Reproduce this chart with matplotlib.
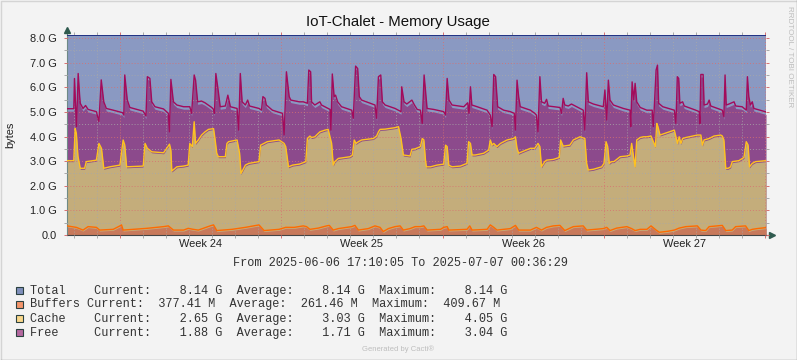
import numpy as np
import matplotlib
matplotlib.use('Agg')
import matplotlib.pyplot as plt
import matplotlib.dates as mdates
import matplotlib.transforms as mtransforms
from matplotlib.patches import Rectangle
from matplotlib.lines import Line2D

title = 'IoT-Chalet - Memory Usage'
start = np.datetime64('2025-06-06T17:10:05')
end = np.datetime64('2025-07-07T00:36:29')
day0 = np.datetime64('2025-06-07T00:00:00')

total_gb = 8.14

# stacked tops (GB), time in days after 2025-06-07 00:00
free_points = [
    (-0.285, 5.13), (0.01, 5.13), (0.04, 6.36), (0.09, 5.20), (0.13, 4.40), (0.20, 6.56), (0.26, 5.70),
    (0.29, 5.35), (0.41, 5.14), (0.52, 5.26), (0.63, 5.10), (0.99, 5.01), (1.10, 4.60), (1.20, 6.30),
    (1.31, 5.41), (1.42, 5.14), (1.72, 5.07), (2.12, 4.97), (2.18, 4.87), (2.22, 6.50), (2.33, 5.48),
    (2.44, 5.18), (3.02, 5.03), (3.14, 4.83), (3.20, 6.43), (3.31, 6.36), (3.39, 5.41), (3.53, 5.21),
    (3.90, 5.12), (4.11, 4.94), (4.16, 4.19), (4.22, 6.32), (4.33, 5.41), (4.48, 5.28), (4.77, 5.21),
    (5.04, 5.21), (5.12, 4.94), (5.23, 6.50), (5.29, 6.29), (5.38, 5.41), (5.55, 5.44), (5.70, 5.37),
    (5.99, 5.18), (6.07, 5.10), (6.11, 4.94), (6.17, 6.56), (6.26, 5.95), (6.36, 5.21), (6.58, 5.24),
    (6.69, 5.68), (6.80, 5.21), (7.09, 5.14), (7.16, 4.26), (7.23, 6.56), (7.31, 5.41), (7.45, 5.28),
    (7.55, 5.48), (7.63, 5.24), (8.04, 5.14), (8.15, 5.07), (8.21, 5.62), (8.30, 5.55), (8.36, 5.28),
    (8.62, 5.07), (9.06, 4.94), (9.13, 4.06), (9.23, 6.63), (9.35, 5.62), (9.42, 5.48), (9.79, 5.41),
    (9.96, 5.41), (10.14, 5.35), (10.20, 6.70), (10.28, 6.63), (10.32, 5.41), (10.46, 5.28), (10.68, 5.41),
    (10.75, 5.28), (11.12, 5.10), (11.16, 4.26), (11.22, 6.54), (11.30, 5.62), (11.36, 5.68), (11.45, 5.41),
    (11.62, 5.21), (12.06, 5.07), (12.13, 4.74), (12.23, 6.86), (12.32, 6.76), (12.39, 5.62), (12.49, 5.48),
    (13.07, 5.28), (13.14, 4.74), (13.22, 6.43), (13.32, 6.50), (13.39, 5.41), (13.51, 5.28), (13.94, 5.14),
    (14.20, 5.01), (14.23, 6.02), (14.33, 5.41), (14.45, 5.32), (14.67, 5.48), (14.78, 5.28),
    (14.90, 5.10), (15.04, 5.07), (15.12, 4.53), (15.20, 6.50), (15.27, 5.75), (15.33, 5.14), (15.62, 5.10),
    (16.05, 5.01), (16.13, 4.87), (16.20, 6.36), (16.28, 5.48), (16.41, 5.28), (16.92, 5.21), (17.09, 5.37),
    (17.15, 4.94), (17.21, 6.02), (17.27, 5.28), (17.50, 5.21), (17.93, 5.07), (18.07, 4.87), (18.15, 4.40),
    (18.22, 6.52), (18.30, 6.43), (18.39, 5.21), (18.65, 5.07), (18.94, 5.01), (19.11, 4.94), (19.16, 4.26),
    (19.23, 6.29), (19.30, 5.62), (19.37, 5.21), (19.59, 5.14), (19.81, 5.07),
    (20.00, 4.94), (20.07, 4.87), (20.14, 4.19), (20.22, 6.43), (20.29, 5.41), (20.43, 5.35), (20.51, 5.51),
    (20.58, 5.24), (21.09, 5.18), (21.16, 4.94), (21.23, 5.55), (21.30, 5.28), (21.45, 5.24), (21.59, 5.32),
    (22.10, 5.07), (22.17, 4.26), (22.25, 6.59), (22.32, 5.41), (22.54, 5.32), (22.97, 5.21), (23.04, 5.89),
    (23.12, 4.67), (23.19, 6.29), (23.26, 5.48), (23.41, 5.28), (23.84, 5.14), (24.13, 5.07), (24.16, 4.40),
    (24.22, 6.22), (24.29, 5.48), (24.35, 6.16), (24.42, 5.41), (24.57, 5.18), (24.86, 5.07),
    (25.09, 5.07), (25.14, 4.40), (25.26, 6.70), (25.32, 6.90), (25.37, 5.35), (25.55, 5.21), (26.05, 5.07),
    (26.12, 4.53), (26.18, 6.43), (26.24, 6.36), (26.29, 5.35), (26.41, 5.41), (26.48, 5.24), (26.98, 5.07),
    (27.13, 5.01), (27.16, 4.53), (27.20, 6.52), (27.30, 6.52), (27.34, 5.28), (27.49, 5.32), (27.56, 5.48),
    (27.63, 5.24), (28.13, 5.07), (28.20, 4.80), (28.25, 6.50), (28.30, 5.28), (28.42, 5.32), (28.64, 5.41),
    (28.71, 5.24), (28.99, 5.21), (29.17, 5.07), (29.22, 6.43), (29.28, 5.62), (29.35, 5.28), (29.43, 5.41),
    (29.50, 5.14), (30.025, 5.00),
]

cache_points = [
    (-0.285, 3.02), (0.01, 3.02), (0.07, 4.33), (0.12, 4.13), (0.19, 3.20), (0.29, 2.71), (0.48, 2.71),
    (0.55, 2.98), (0.99, 3.04), (1.10, 3.72), (1.21, 3.52), (1.31, 2.71), (1.57, 2.77), (2.01, 2.84),
    (2.15, 3.86), (2.22, 3.65), (2.30, 2.77), (3.02, 2.80), (3.10, 3.72), (3.20, 3.52), (3.39, 3.38),
    (3.90, 3.34), (4.04, 3.52), (4.16, 3.69), (4.22, 3.45), (4.26, 2.60), (4.48, 2.77), (4.77, 2.80),
    (4.97, 2.84), (5.04, 3.72), (5.15, 3.59), (5.23, 4.60), (5.29, 3.72), (5.41, 3.86), (5.55, 4.06),
    (5.70, 4.19), (5.85, 4.29), (6.07, 4.32), (6.14, 3.86), (6.21, 3.32), (6.28, 3.18), (6.58, 3.18),
    (6.65, 3.72), (6.72, 3.79), (7.09, 3.86), (7.20, 3.32), (7.26, 2.50), (7.45, 2.84), (7.60, 2.91),
    (8.04, 2.98), (8.11, 3.65), (8.26, 3.72), (8.40, 3.79), (8.91, 3.86), (9.13, 3.72), (9.20, 3.59),
    (9.32, 2.77), (9.50, 2.84), (9.79, 2.88),
    (9.96, 2.94), (10.07, 2.98), (10.14, 3.92), (10.25, 4.02), (10.32, 3.96), (10.46, 3.99), (10.68, 4.19),
    (10.90, 4.26), (11.04, 4.29), (11.12, 3.99), (11.19, 3.72), (11.26, 2.84), (11.33, 2.98), (11.48, 3.11),
    (11.77, 3.15), (11.99, 3.18), (12.09, 3.25), (12.17, 3.86), (12.25, 3.72), (12.35, 3.79), (12.49, 3.86),
    (13.00, 3.92), (13.14, 4.02), (13.22, 4.19), (13.29, 4.29), (13.51, 4.30), (13.94, 4.36), (14.09, 4.40),
    (14.20, 3.92), (14.30, 3.25), (14.59, 3.21), (14.67, 3.48), (14.81, 3.50),
    (15.04, 3.59), (15.12, 3.92), (15.19, 3.86), (15.26, 3.04), (15.30, 2.77), (15.48, 2.77), (15.76, 2.84),
    (16.05, 2.88), (16.13, 3.65), (16.20, 3.59), (16.27, 2.84), (16.41, 2.77), (16.77, 2.80), (17.06, 2.91),
    (17.13, 3.79), (17.21, 3.72), (17.28, 3.25), (17.42, 3.25), (17.78, 3.32), (18.00, 3.45), (18.07, 3.86),
    (18.15, 3.65), (18.22, 3.72), (18.36, 3.59), (18.51, 3.72), (18.80, 3.86), (19.08, 3.92), (19.16, 3.99),
    (19.23, 3.52), (19.30, 3.32), (19.44, 3.38), (19.81, 3.52),
    (20.00, 3.52), (20.14, 3.72), (20.22, 3.59), (20.29, 2.77), (20.43, 2.98), (20.51, 3.04), (20.80, 3.07),
    (21.06, 3.15), (21.12, 3.86), (21.23, 3.61), (21.52, 3.65), (21.67, 3.86), (21.96, 3.99), (22.17, 3.92),
    (22.25, 2.91), (22.32, 2.64), (22.54, 2.67), (22.90, 2.77), (23.00, 2.91), (23.09, 3.79), (23.16, 3.59),
    (23.23, 2.91), (23.33, 2.98), (23.43, 2.98), (23.70, 3.18), (23.99, 3.21), (24.13, 3.25), (24.20, 3.72),
    (24.28, 3.18), (24.35, 2.77), (24.42, 3.86), (24.57, 3.96), (24.71, 3.99), (24.86, 3.99),
    (25.04, 4.02), (25.14, 3.79), (25.23, 3.59), (25.29, 4.53), (25.34, 4.40), (25.43, 4.06), (25.55, 4.10),
    (26.05, 4.26), (26.12, 3.99), (26.19, 3.72), (26.26, 3.99), (26.34, 3.72), (26.41, 3.92), (26.55, 3.96),
    (27.05, 4.06), (27.20, 4.06), (27.27, 3.65), (27.34, 3.86), (27.56, 3.92), (27.77, 4.02), (28.06, 4.06),
    (28.13, 4.02), (28.20, 3.86), (28.28, 2.71), (28.39, 2.71), (28.49, 2.77), (28.56, 2.98), (28.85, 3.02),
    (29.07, 3.15), (29.17, 3.79), (29.25, 3.65), (29.31, 2.77), (29.43, 2.91), (29.57, 2.98), (30.025, 3.02),
]

buffers_points = [
    (-0.285, 0.37), (0.12, 0.31), (0.41, 0.20), (0.63, 0.34), (0.99, 0.31), (1.13, 0.20), (1.72, 0.23),
    (2.01, 0.37), (2.08, 0.41), (2.15, 0.20), (3.17, 0.27), (3.90, 0.34), (4.11, 0.37), (4.33, 0.20),
    (4.77, 0.20), (4.97, 0.27), (5.19, 0.23), (5.41, 0.20), (5.92, 0.37), (6.07, 0.41), (6.21, 0.18),
    (6.87, 0.23), (7.45, 0.31), (8.04, 0.41), (8.26, 0.18), (8.91, 0.23), (9.20, 0.31), (9.57, 0.31),
    (9.96, 0.37), (10.10, 0.34), (10.25, 0.23), (10.61, 0.28), (10.97, 0.37), (11.09, 0.39), (11.26, 0.20),
    (11.48, 0.26), (12.06, 0.34), (12.20, 0.39), (12.35, 0.20), (12.78, 0.26), (13.07, 0.37), (13.29, 0.31),
    (13.43, 0.14), (13.65, 0.26), (13.94, 0.34), (14.16, 0.37), (14.30, 0.20), (14.59, 0.26), (14.81, 0.34),
    (15.04, 0.34), (15.19, 0.37), (15.33, 0.20), (15.91, 0.23), (16.05, 0.31), (16.20, 0.34), (16.27, 0.20),
    (17.06, 0.23), (17.18, 0.37), (17.28, 0.20), (17.93, 0.23), (18.07, 0.41), (18.22, 0.31), (18.36, 0.20),
    (18.94, 0.26), (19.16, 0.39), (19.30, 0.20), (19.81, 0.20),
    (20.07, 0.31), (20.29, 0.20), (20.51, 0.31), (20.80, 0.37), (21.09, 0.39), (21.30, 0.18), (21.67, 0.34),
    (22.10, 0.37), (22.25, 0.20), (22.97, 0.26), (23.12, 0.31), (23.26, 0.18), (23.55, 0.28), (23.99, 0.34),
    (24.20, 0.26), (24.35, 0.18), (24.57, 0.23), (24.86, 0.23),
    (25.04, 0.37), (25.26, 0.20), (25.40, 0.11), (25.76, 0.15), (26.05, 0.20), (26.26, 0.28), (26.55, 0.34),
    (27.05, 0.37), (27.20, 0.20), (27.41, 0.18), (27.56, 0.34), (28.13, 0.39), (28.28, 0.18), (28.56, 0.20),
    (28.71, 0.34), (29.14, 0.37), (29.28, 0.18), (29.43, 0.23), (29.64, 0.26), (30.025, 0.30),
]

y_labels = ['0.0', '1.0 G', '2.0 G', '3.0 G', '4.0 G', '5.0 G', '6.0 G', '7.0 G', '8.0 G']
week_starts = ['2025-06-09', '2025-06-16', '2025-06-23', '2025-06-30']
week_labels = ['Week 24', 'Week 25', 'Week 26', 'Week 27']

legend_rows = [
    'Total    Current:    8.14 G  Average:    8.14 G  Maximum:    8.14 G',
    'Buffers Current:  377.41 M  Average:  261.46 M  Maximum:  409.67 M',
    'Cache    Current:    2.65 G  Average:    3.03 G  Maximum:    4.05 G',
    'Free     Current:    1.88 G  Average:    1.71 G  Maximum:    3.04 G',
]
legend_colors = ['#7F8FBB', '#F4956B', '#FAD88C', '#B4689F']


def to_time(days):
    secs = np.round(np.asarray(days) * 86400).astype('int64')
    return day0 + secs * np.timedelta64(1, 's')


def split(points):
    arr = np.array(points)
    return to_time(arr[:, 0]), arr[:, 1]


W, H = 797, 360
sans = 'Liberation Sans'
mono = 'Liberation Mono'
text_col = '#222222'

fig = plt.figure(figsize=(W / 100, H / 100), dpi=100)
fig.patch.set_facecolor('#F3F3F3')
ax = fig.add_axes([67 / W, 125 / H, 699 / W, 200.4 / H])
ax.set_facecolor('white')

free_t, free_v = split(free_points)
cache_t, cache_v = split(cache_points)
buf_t, buf_v = split(buffers_points)

# areas sit a bit below their lines, like the rrd graph
down3 = ax.transData + mtransforms.ScaledTranslation(0, -0.025, fig.dpi_scale_trans)
down1 = ax.transData + mtransforms.ScaledTranslation(0, -0.01, fig.dpi_scale_trans)

ax.fill_between([start, end], 0, total_gb, color='#8A99C2', lw=0, zorder=1)
ax.fill_between(free_t, 0, free_v, color='#8C4A8C', lw=0, zorder=1, transform=down3)
ax.fill_between(cache_t, 0, cache_v, color='#C4AD7B', lw=0, zorder=1, transform=down1)
ax.fill_between(buf_t, 0, buf_v, color='#C8795B', lw=0, zorder=1, transform=down1)

ax.plot([start, end], [total_gb, total_gb], color='#1A2A80', lw=1.3, zorder=3)
ax.plot(free_t, free_v, color='#A30B5B', lw=1.0, zorder=3)
ax.plot(cache_t, cache_v, color='#FFC21F', lw=1.0, zorder=3)
ax.plot(buf_t, buf_v, color='#FF6A00', lw=1.0, zorder=3)

ax.set_xlim(start, end)
ax.set_ylim(0, total_gb)

ax.set_yticks(np.arange(0, 9, 1.0))
ax.set_yticks(np.arange(0.5, 8.1, 1.0), minor=True)
ax.set_yticklabels(y_labels, family=sans)
ax.xaxis.set_major_locator(mdates.WeekdayLocator(byweekday=mdates.MO))
ax.xaxis.set_minor_locator(mdates.DayLocator())
ax.xaxis.set_major_formatter(plt.NullFormatter())

ax.set_axisbelow(False)
ax.grid(True, which='major', color='#D87070', ls=(0, (1, 2)), lw=0.7, alpha=0.8)
ax.grid(True, which='minor', color='#A8A8A8', ls=(0, (1, 2)), lw=0.7, alpha=0.8)

ax.tick_params(which='both', direction='out', length=2.5, width=0.7,
               left=True, right=True, top=True, bottom=True, labelright=False, labeltop=False)
ax.tick_params(which='major', color='#D87070', labelsize=7.9, labelcolor=text_col, pad=5)
ax.tick_params(which='minor', color='#A8A8A8')

for side in ['top', 'right']:
    ax.spines[side].set_visible(False)
ax.spines['left'].set_color('#6E8A86')
ax.spines['bottom'].set_color('#444444')
ax.spines['left'].set_linewidth(0.8)
ax.spines['bottom'].set_linewidth(0.8)

# axis arrows
ax.plot([0, 0], [1.0, 1.02], color='#6E8A86', lw=0.8, transform=ax.transAxes, clip_on=False)
ax.plot(0, 1.025, marker='^', ms=4.5, color='#2F5A4E', transform=ax.transAxes, clip_on=False)
ax.plot([1.0, 1.006], [0, 0], color='#444444', lw=0.8, transform=ax.transAxes, clip_on=False)
ax.plot(1.008, 0, marker='>', ms=4.5, color='#2F5A4E', transform=ax.transAxes, clip_on=False)

xform = ax.get_xaxis_transform()
for ws, lab in zip(week_starts, week_labels):
    mid = np.datetime64(ws + 'T00:00:00') + np.timedelta64(84, 'h')
    ax.text(mid, -0.022, lab, transform=xform, ha='center', va='top', family=sans,
            fontsize=7.9, color=text_col)

fig.text(10.5 / W, 1 - 135 / H, 'bytes', rotation=90, ha='center', va='center', family=sans,
         fontsize=7.9, color=text_col)
fig.text(398 / W, 1 - 22 / H, title, ha='center', va='center', family=sans, fontsize=10.8,
         color='#111111')
fig.text(789 / W, 1 - 57 / H, 'RRDTOOL / TOBI OETIKER', rotation=270, ha='center', va='center',
         family=sans, fontsize=5.8, color='#BDBDBD')

fig.text(400 / W, 1 - 262.5 / H, 'From 2025-06-06 17:10:05 To 2025-07-07 00:36:29',
         ha='center', va='center', family=mono, fontsize=8.55, color='#333333')

row_y = [290.7, 304.5, 318.6, 332.6]
for yy, row, col in zip(row_y, legend_rows, legend_colors):
    fig.add_artist(Rectangle((15.5 / W, 1 - (yy + 3.5) / H), 7 / W, 7 / H, transform=fig.transFigure,
                             facecolor=col, edgecolor='#2B4040', lw=0.8))
    fig.text(30 / W, 1 - yy / H, row, ha='left', va='center', family=mono, fontsize=8.55,
             color='#333333')

fig.text(398.5 / W, 1 - 349.5 / H, 'Generated by Cacti\u00ae', ha='center', va='center',
         family=sans, fontsize=5.5, color='#BEBEBE')

# outer frame
fig.add_artist(Line2D([0.5 / W, 0.5 / W, 1 - 0.5 / W], [0, 1 - 0.5 / H, 1 - 0.5 / H],
                      transform=fig.transFigure, color='#D4D4D4', lw=1))
fig.add_artist(Line2D([0.5 / W, 1 - 0.5 / W, 1 - 0.5 / W], [0.5 / H, 0.5 / H, 1],
                      transform=fig.transFigure, color='#9A9A9A', lw=1))

fig.savefig('out.png', dpi=100, facecolor=fig.get_facecolor())
